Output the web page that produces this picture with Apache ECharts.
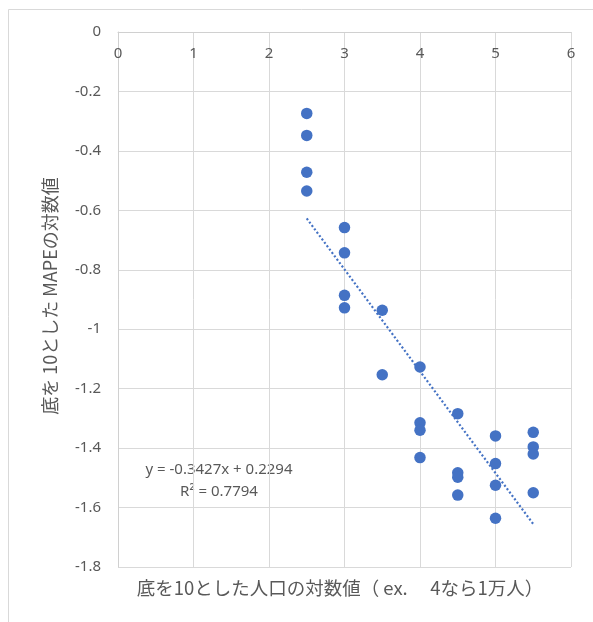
<!DOCTYPE html>
<html>
<head>
<meta charset="utf-8">
<script src="https://cdn.jsdelivr.net/npm/echarts@6/dist/echarts.min.js"></script>
<style>
  html, body { margin: 0; padding: 0; background: #ffffff; }
  #chart { width: 593px; height: 622px; }
</style>
</head>
<body>
<div id="chart"></div>
<script>
// log10(population) for each municipality group
const xValues = [
  2.5, 2.5, 2.5, 2.5,
  3, 3, 3, 3,
  3.5, 3.5,
  4, 4, 4, 4,
  4.5, 4.5, 4.5, 4.5,
  5, 5, 5, 5,
  5.5, 5.5, 5.5, 5.5
];
// log10(MAPE) for each point
const yValues = [
  -0.274, -0.348, -0.472, -0.535,
  -0.658, -0.743, -0.886, -0.928,
  -0.936, -1.153,
  -1.127, -1.315, -1.340, -1.432,
  -1.284, -1.483, -1.498, -1.558,
  -1.359, -1.452, -1.525, -1.636,
  -1.347, -1.396, -1.420, -1.550
];
// linear trend fit
const slope = -0.3427;
const intercept = 0.2294;
const trendRange = [2.5, 5.5];
const xTicks = [0, 1, 2, 3, 4, 5, 6];
const yTicks = [0, -0.2, -0.4, -0.6, -0.8, -1, -1.2, -1.4, -1.6, -1.8];

const points = xValues.map((x, i) => [x, yValues[i]]);
const trend = trendRange.map(x => [x, slope * x + intercept]);

const gray = '#595959';
const font = '"Noto Sans CJK JP", "Noto Sans", sans-serif';
const latin = '"Noto Sans", "Noto Sans CJK JP", sans-serif';

const chart = echarts.init(document.getElementById('chart'), null, { renderer: 'canvas' });
chart.setOption({
  animation: false,
  backgroundColor: '#ffffff',
  textStyle: { fontFamily: font },
  grid: { left: 118, top: 32, right: 22, bottom: 55, containLabel: false },
  xAxis: {
    type: 'value',
    position: 'top',
    min: xTicks[0],
    max: xTicks[xTicks.length - 1],
    interval: 1,
    axisLine: { show: true, onZero: false, lineStyle: { color: '#d0d0d0', width: 1 } },
    axisTick: { show: false },
    axisLabel: { inside: true, margin: 14, color: gray, fontSize: 15, fontFamily: latin },
    splitLine: { show: true, lineStyle: { color: '#d9d9d9', width: 1 } }
  },
  yAxis: {
    type: 'value',
    min: yTicks[yTicks.length - 1],
    max: yTicks[0],
    interval: 0.2,
    axisLine: { show: true, lineStyle: { color: '#d0d0d0', width: 1 } },
    axisTick: { show: false },
    axisLabel: {
      margin: 17, color: gray, fontSize: 15, fontFamily: latin,
      formatter: v => String(Math.round(v * 10) / 10)
    },
    splitLine: { show: true, lineStyle: { color: '#d9d9d9', width: 1 } }
  },
  series: [
    {
      type: 'line',
      data: trend,
      symbol: 'none',
      lineStyle: { color: '#4472C4', width: 2.2, type: [2, 2.2] },
      z: 3
    },
    {
      type: 'scatter',
      data: points,
      symbol: 'circle',
      symbolSize: 11.5,
      itemStyle: { color: '#4472C4', opacity: 1 },
      z: 4
    }
  ],
  graphic: [
    {
      type: 'rect',
      shape: { x: 8.5, y: 9.5, width: 600, height: 640 },
      style: { fill: 'none', stroke: '#d9d9d9', lineWidth: 1 },
      silent: true, z: -10
    },
    {
      type: 'text',
      x: 219, y: 470,
      style: {
        text: 'y = -0.3427x + 0.2294', fill: gray, fontSize: 15, fontFamily: latin,
        align: 'center', verticalAlign: 'middle'
      }
    },
    {
      type: 'text',
      x: 219, y: 492,
      style: {
        text: 'R² = 0.7794', fill: gray, fontSize: 15, fontFamily: latin,
        align: 'center', verticalAlign: 'middle'
      }
    },
    {
      type: 'text',
      x: 340, y: 588,
      style: {
        text: '底を10とした人口の対数値（ ex.　 4なら1万人）', fill: gray, fontSize: 18.5, fontFamily: font,
        align: 'center', verticalAlign: 'middle'
      }
    },
    {
      type: 'text',
      x: 50, y: 296,
      rotation: Math.PI / 2,
      style: {
        text: '底を 10とした MAPEの対数値', fill: gray, fontSize: 18, fontFamily: font,
        align: 'center', verticalAlign: 'middle'
      }
    }
  ]
});
</script>
</body>
</html>
